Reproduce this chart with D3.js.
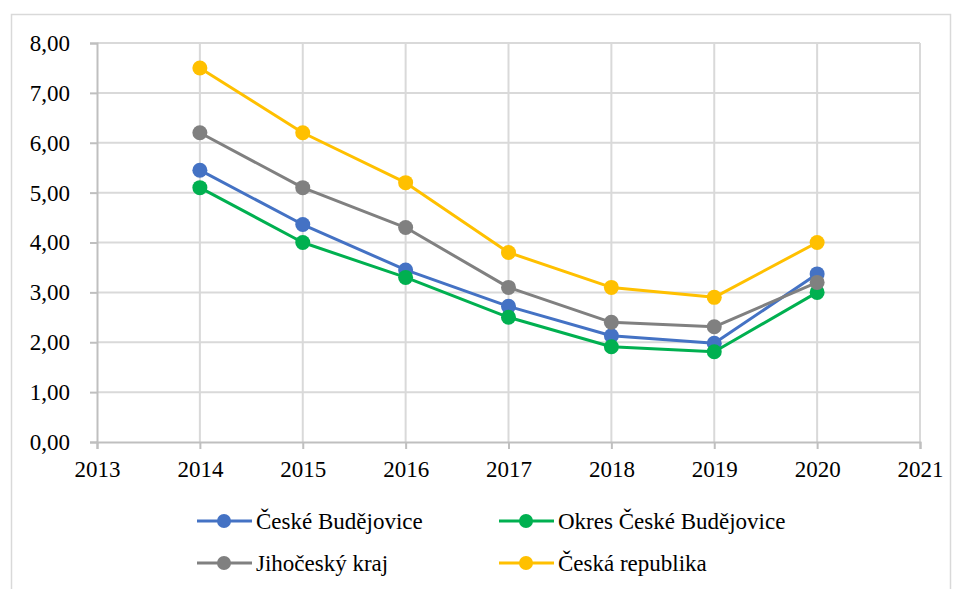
<!DOCTYPE html>
<html>
<head>
<meta charset="utf-8">
<script src="https://cdn.jsdelivr.net/npm/d3@7"></script>
<style>
    body { margin: 0; background: #fff; }
    svg text { font-family: 'Liberation Serif', 'Times New Roman', serif; fill: #000; }
</style>
</head>
<body>
<svg id="chart" width="959" height="589"></svg>
<script>
const FONT = "'Liberation Serif', 'Times New Roman', serif";

const years = [2014, 2015, 2016, 2017, 2018, 2019, 2020];
const xTicks = [2013, 2014, 2015, 2016, 2017, 2018, 2019, 2020, 2021];
const yTicks = [0, 1, 2, 3, 4, 5, 6, 7, 8];

const ceskeBudejovice = [5.45, 4.36, 3.45, 2.72, 2.13, 1.98, 3.37];
const okresCB = [5.10, 4.00, 3.30, 2.50, 1.91, 1.81, 3.00];
const jihoceskyKraj = [6.20, 5.10, 4.30, 3.10, 2.40, 2.31, 3.20];
const ceskaRepublika = [7.50, 6.20, 5.20, 3.80, 3.10, 2.90, 4.00];

const seriesNames = ["České Budějovice", "Okres České Budějovice", "Jihočeský kraj", "Česká republika"];
const seriesColors = ["#4472C4", "#00B050", "#808080", "#FFC000"];

const series = [ceskeBudejovice, okresCB, jihoceskyKraj, ceskaRepublika].map((vals, i) => ({
    name: seriesNames[i],
    color: seriesColors[i],
    values: vals.map((v, j) => ({ year: years[j], value: v }))
}));

const svg = d3.select("#chart");

// outer frame
svg.append("rect")
    .attr("x", 11.5).attr("y", 14.5)
    .attr("width", 939).attr("height", 600)
    .attr("fill", "none")
    .attr("stroke", "#d9d9d9")
    .attr("stroke-width", 1.5);

const plot = { left: 97, right: 920, top: 43, bottom: 442 };

const x = d3.scaleLinear().domain([2013, 2021]).range([plot.left, plot.right]);
const y = d3.scaleLinear().domain([0, 8]).range([plot.bottom, plot.top]);

// Gridlines
svg.append("g")
    .selectAll("line")
    .data(yTicks.slice(1))
    .join("line")
    .attr("x1", plot.left).attr("x2", plot.right)
    .attr("y1", d => y(d)).attr("y2", d => y(d))
    .attr("stroke", "#d9d9d9").attr("stroke-width", 2);

svg.append("g")
    .selectAll("line")
    .data(xTicks.slice(1))
    .join("line")
    .attr("x1", d => x(d)).attr("x2", d => x(d))
    .attr("y1", plot.top).attr("y2", plot.bottom)
    .attr("stroke", "#d9d9d9").attr("stroke-width", 2);

// Axes
const yAxis = d3.axisLeft(y)
    .tickValues(yTicks)
    .tickSize(7)
    .tickPadding(20)
    .tickFormat(d => d3.format(".2f")(d).replace(".", ","));

const xAxis = d3.axisBottom(x)
    .tickValues(xTicks)
    .tickSize(7)
    .tickPadding(12)
    .tickFormat(d3.format("d"));

const gy = svg.append("g").attr("transform", `translate(${plot.left},0)`).call(yAxis);
const gx = svg.append("g").attr("transform", `translate(0,${plot.bottom})`).call(xAxis);

[gx, gy].forEach(g => {
    g.select(".domain").attr("stroke", "#bfbfbf").attr("stroke-width", 2);
    g.selectAll(".tick line").attr("stroke", "#bfbfbf").attr("stroke-width", 2);
    g.selectAll(".tick text")
        .style("font-family", FONT)
        .style("font-size", "23px")
        .attr("fill", "#000");
});

// Lines
const line = d3.line().x(d => x(d.year)).y(d => y(d.value));

const sg = svg.append("g").selectAll("g")
    .data(series)
    .join("g");

sg.append("path")
    .attr("d", d => line(d.values))
    .attr("fill", "none")
    .attr("stroke", d => d.color)
    .attr("stroke-width", 3)
    .attr("stroke-linejoin", "round");

sg.selectAll("circle")
    .data(d => d.values.map(v => ({ ...v, color: d.color })))
    .join("circle")
    .attr("cx", d => x(d.year))
    .attr("cy", d => y(d.value))
    .attr("r", 7.5)
    .attr("fill", d => d.color);

// Legend
const legendPos = [
    { x: 197, y: 521 },
    { x: 499, y: 521 },
    { x: 197, y: 563 },
    { x: 499, y: 563 }
];

const legend = svg.append("g")
    .selectAll("g")
    .data(series)
    .join("g")
    .attr("transform", (d, i) => `translate(${legendPos[i].x},${legendPos[i].y})`);

legend.append("line")
    .attr("x1", 0).attr("x2", 55)
    .attr("y1", 0).attr("y2", 0)
    .attr("stroke", d => d.color)
    .attr("stroke-width", 3);

legend.append("circle")
    .attr("cx", 27).attr("cy", 0).attr("r", 7)
    .attr("fill", d => d.color);

legend.append("text")
    .attr("x", 59).attr("y", 0)
    .attr("dy", "0.35em")
    .style("font-family", FONT)
    .style("font-size", "23px")
    .text(d => d.name);
</script>
</body>
</html>
